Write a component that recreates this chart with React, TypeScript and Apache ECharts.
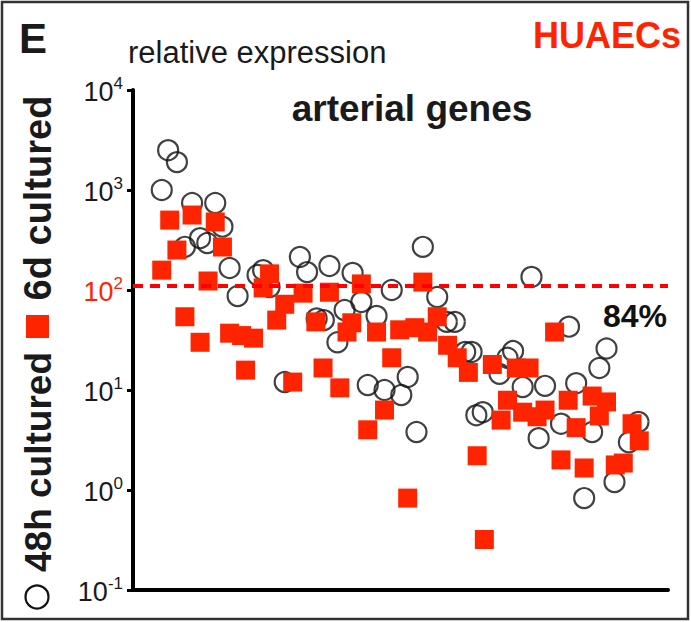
import React, { useEffect, useRef } from "react";
import * as echarts from "echarts";

// gene rank (position along x) and relative expression values
const circleRank = [3.6, 4.4, 5.5, 6.5, 7.4, 8.4, 9.3, 10.3, 11.2, 12.1, 13.1, 15.6, 16.3, 17.1, 19.0, 20.9, 21.8, 23.0, 23.9, 24.6, 25.6, 26.5, 27.5, 28.6, 29.4, 30.5, 31.5, 32.4, 33.6, 34.4, 35.5, 36.3, 38.1, 39.3, 40.3, 41.6, 42.4, 43.0, 43.8, 45.9, 46.9, 47.6, 48.8, 49.9, 50.8, 51.6, 53.6, 54.6, 55.5, 56.5, 57.5, 58.4, 59.3, 60.3, 62.1, 63.3];
const circleValue = [1000, 2500, 1900, 270, 740, 330, 295, 740, 430, 166, 87, 141, 158, 107, 12, 214, 151, 52, 50, 174, 30, 63, 148, 76, 11.2, 55, 10, 100, 8.9, 13.5, 3.8, 270, 85, 48, 48, 24, 24, 5.6, 6.0, 14.5, 21, 24.5, 10.7, 135, 3.3, 11, 4.6, 43, 11.7, 0.83, 3.8, 16.6, 26, 1.2, 3.0, 4.8];

const squareRank = [3.6, 4.6, 5.5, 6.5, 7.4, 8.4, 9.4, 10.3, 11.2, 12.1, 13.6, 14.1, 15.1, 16.3, 17.1, 18.0, 19.0, 20.0, 21.3, 22.9, 23.8, 24.6, 25.9, 26.8, 27.4, 28.6, 29.4, 30.5, 31.5, 32.4, 33.4, 34.4, 35.3, 36.3, 36.9, 38.1, 39.4, 40.6, 42.0, 43.1, 44.0, 45.0, 46.1, 46.9, 48.0, 48.8, 49.6, 50.6, 51.6, 52.8, 53.6, 54.5, 55.5, 56.5, 57.5, 58.4, 59.3, 60.4, 61.4, 62.5, 63.4];
const squareValue = [158, 500, 251, 54, 562, 30, 123, 479, 269, 37, 35, 15.8, 33, 105, 145, 50, 72, 12, 93, 48, 16.6, 95, 10.5, 38, 47, 115, 4.0, 38, 6.3, 21, 40, 0.83, 42, 120, 38, 54, 28, 21, 15, 2.2, 0.32, 18, 5.0, 7.9, 16.6, 6.0, 16.6, 5.4, 6.3, 38, 2.0, 7.9, 4.2, 1.66, 8.7, 5.5, 7.6, 1.78, 1.86, 4.6, 3.1];

const thresholdValue = 110;
const yMin = 0.1;
const yMax = 10000;
const percentLabel = "84%";

const FONT = "'Liberation Sans', Arial, Helvetica, sans-serif";
const RED = "#ff2400";

export default function App() {
  const ref = useRef<HTMLDivElement>(null);
  useEffect(() => {
    if (!ref.current) return;
    const chart = echarts.init(ref.current, null, { renderer: "svg" });
    const circles = circleRank.map((r, i) => [r, circleValue[i]]);
    const squares = squareRank.map((r, i) => [r, squareValue[i]]);
    chart.setOption({
      animation: false,
      backgroundColor: "#ffffff",
      textStyle: { fontFamily: FONT },
      grid: { left: 133, top: 90, width: 535, height: 500 },
      xAxis: {
        type: "value",
        min: 0,
        max: 67,
        axisLine: { show: true, lineStyle: { color: "#000", width: 4 } },
        axisTick: { show: false },
        axisLabel: { show: false },
        splitLine: { show: false },
      },
      yAxis: {
        type: "log",
        logBase: 10,
        min: yMin,
        max: yMax,
        axisLine: { show: true, lineStyle: { color: "#000", width: 4 } },
        axisTick: { show: true, inside: false, length: 6, lineStyle: { color: "#000", width: 3 } },
        minorTick: { show: false },
        splitLine: { show: false },
        axisLabel: {
          margin: 10,
          formatter: (v: number) => {
            const e = Math.round(Math.log10(v));
            const exp = e < 0 ? "-" + Math.abs(e) : String(e);
            return e === 2 ? `{br|10}{sr|${exp}}` : `{b|10}{s|${exp}}`;
          },
          rich: {
            b: { fontSize: 27, color: "#1a1a1a", fontFamily: FONT, verticalAlign: "bottom" },
            s: { fontSize: 17, color: "#1a1a1a", fontFamily: FONT, verticalAlign: "bottom", padding: [0, 0, 14, 0] },
            br: { fontSize: 27, color: RED, fontFamily: FONT, verticalAlign: "bottom" },
            sr: { fontSize: 17, color: RED, fontFamily: FONT, verticalAlign: "bottom", padding: [0, 0, 14, 0] },
          },
        },
      },
      series: [
        {
          name: "48h cultured",
          type: "scatter",
          symbol: "circle",
          symbolSize: 20,
          data: circles,
          itemStyle: { color: "rgba(255,255,255,0)", borderColor: "#111", borderWidth: 2.2 },
          z: 2,
        },
        {
          name: "6d cultured",
          type: "scatter",
          symbol: "rect",
          symbolSize: 19,
          data: squares,
          itemStyle: { color: RED, opacity: 1 },
          z: 3,
          markLine: {
            silent: true,
            symbol: "none",
            label: { show: false },
            lineStyle: { color: "#ff0000", width: 4, type: [10, 7] },
            data: [{ yAxis: thresholdValue }],
          },
        },
      ],
      graphic: [
        {
          type: "rect",
          shape: { x: 2, y: 2, width: 686, height: 617 },
          style: { fill: "none", stroke: "#333", lineWidth: 2.5 },
          silent: true,
        },
        {
          type: "text",
          x: 19,
          y: 38,
          style: { text: "E", font: `bold 42px ${FONT}`, fill: "#1a1a1a", verticalAlign: "middle" },
        },
        {
          type: "text",
          x: 128,
          y: 52,
          style: { text: "relative expression", font: `31px ${FONT}`, fill: "#1a1a1a", verticalAlign: "middle" },
        },
        {
          type: "text",
          x: 681,
          y: 35,
          style: { text: "HUAECs", font: `bold 36px ${FONT}`, fill: RED, align: "right", verticalAlign: "middle" },
        },
        {
          type: "text",
          x: 412,
          y: 108,
          style: { text: "arterial genes", font: `bold 37px ${FONT}`, fill: "#1a1a1a", align: "center", verticalAlign: "middle" },
        },
        {
          type: "text",
          x: 635,
          y: 316,
          style: { text: percentLabel, font: `bold 32px ${FONT}`, fill: "#111", align: "center", verticalAlign: "middle" },
        },
        {
          type: "text",
          x: 38,
          y: 198,
          rotation: Math.PI / 2,
          style: { text: "6d cultured", font: `bold 38px ${FONT}`, fill: "#1a1a1a", align: "center", verticalAlign: "middle" },
        },
        {
          type: "rect",
          shape: { x: 26, y: 315, width: 23, height: 23 },
          style: { fill: RED },
        },
        {
          type: "text",
          x: 38,
          y: 462,
          rotation: Math.PI / 2,
          style: { text: "48h cultured", font: `bold 37px ${FONT}`, fill: "#1a1a1a", align: "center", verticalAlign: "middle" },
        },
        {
          type: "circle",
          shape: { cx: 37, cy: 597, r: 11.5 },
          style: { fill: "none", stroke: "#111", lineWidth: 2.2 },
        },
      ],
    });
    return () => chart.dispose();
  }, []);
  return (
    <div
      ref={ref}
      style={{ position: "fixed", left: 0, top: 0, width: 691, height: 622 }}
    />
  );
}
